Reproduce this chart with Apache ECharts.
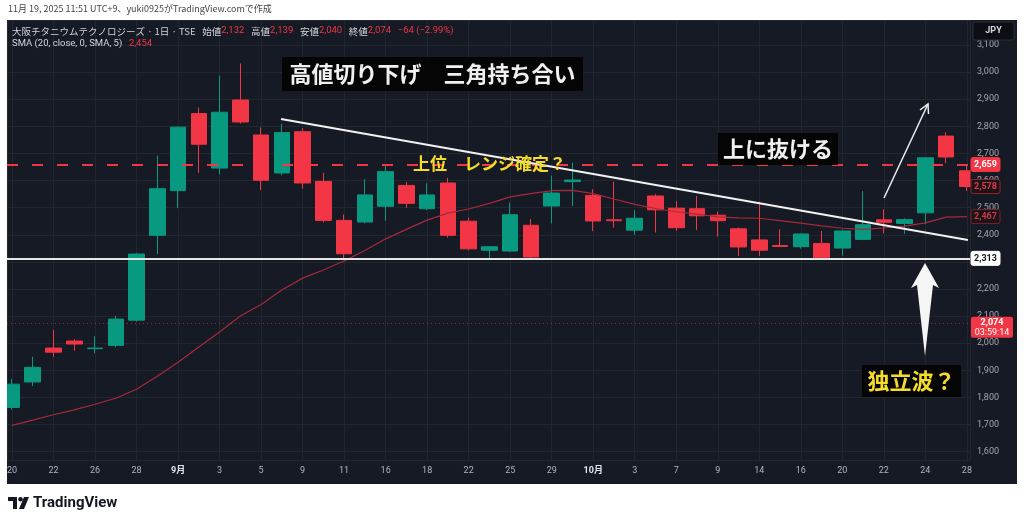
<!DOCTYPE html>
<html>
<head>
<meta charset="utf-8">
<script src="https://cdn.jsdelivr.net/npm/echarts@6/dist/echarts.min.js"></script>
<style>
  html, body { margin: 0; background: #fff; }
  #main { width: 1024px; height: 524px; }
</style>
</head>
<body>
<div id="main"></div>
<script>
// 営業日ラベル (8/20 ~ 10/28)
const days = ['20', '21', '22', '25', '26', '27', '28', '29',
  '9月', '2', '3', '4', '5', '8', '9', '10', '11', '12', '16', '17', '18', '19', '22', '24', '25', '26', '29', '30',
  '10月', '2', '3', '6', '7', '8', '9', '10', '14', '15', '16', '17', '20', '21', '22', '23', '24', '27', '28']
const openP = [1763, 1857, 1982, 2008, 1980, 1992, 2085, 2398, 2563, 2847, 2646, 2897, 2768, 2628, 2780, 2597,
  2453, 2447, 2505, 2582, 2496, 2591, 2450, 2343, 2340, 2435, 2506, 2596, 2545, 2455, 2417, 2543,
  2498, 2496, 2472, 2422, 2381, 2360, 2356, 2368, 2351, 2383, 2455, 2442, 2481, 2764, 2636]
const closeP = [1849, 1911, 1967, 1997, 1982, 2089, 2329, 2570, 2797, 2734, 2852, 2816, 2601, 2777, 2591, 2453,
  2330, 2547, 2633, 2516, 2547, 2398, 2348, 2356, 2474, 2318, 2554, 2602, 2451, 2452, 2461, 2492,
  2426, 2470, 2452, 2355, 2343, 2357, 2403, 2315, 2414, 2437, 2446, 2456, 2684, 2687, 2578]
const lowP = [1755, 1842, 1949, 1972, 1963, 1985, 2080, 2329, 2498, 2629, 2623, 2810, 2565, 2620, 2570, 2446,
  2307, 2442, 2452, 2499, 2491, 2389, 2343, 2309, 2336, 2315, 2442, 2506, 2414, 2426, 2399, 2408,
  2414, 2417, 2393, 2322, 2322, 2354, 2349, 2311, 2323, 2380, 2405, 2403, 2439, 2664, 2562]
const highP = [1868, 1950, 2049, 2015, 2026, 2101, 2332, 2692, 2800, 2869, 2987, 3032, 2796, 2809, 2793, 2629,
  2475, 2605, 2660, 2595, 2590, 2610, 2463, 2358, 2518, 2458, 2618, 2666, 2568, 2596, 2491, 2550,
  2525, 2543, 2485, 2427, 2522, 2420, 2405, 2414, 2418, 2561, 2494, 2460, 2686, 2778, 2660]
// SMA(20)
const sma20 = [1697, 1716, 1736, 1754, 1775, 1797, 1830, 1878, 1930, 1986, 2041, 2100, 2143, 2196, 2240, 2270,
  2303, 2342, 2385, 2420, 2454, 2480, 2495, 2516, 2540, 2552, 2563, 2564, 2552, 2532, 2512, 2497,
  2485, 2476, 2466, 2462, 2461, 2452, 2443, 2433, 2424, 2420, 2425, 2432, 2444, 2465, 2467]

const UP = '#089981'
const DOWN = '#f23645'
const BG = '#161a25'
const FONT = "Roboto, 'Noto Sans CJK JP', sans-serif"
const JP = "'Noto Sans CJK JP', sans-serif"

const candles = days.map((d, i) => [i, openP[i], closeP[i], lowP[i], highP[i]])
const smaData = sma20.map((v, i) => [i, v])

const chart = echarts.init(document.getElementById('main'))
chart.setOption({
  backgroundColor: '#ffffff',
  animation: false,
  grid: { left: 7, top: 20, width: 963, height: 440 },
  xAxis: {
    type: 'value',
    min: -0.24,
    max: 46.15,
    splitNumber: 23,
    axisLine: { show: false },
    axisTick: { show: false },
    splitLine: { show: true, lineStyle: { color: '#22262f', width: 1 } },
    axisLabel: {
      margin: 6,
      fontSize: 9,
      fontFamily: FONT,
      color: '#b2b5be',
      formatter: function (v) {
        const k = Math.round(v)
        if (Math.abs(v - k) > 1e-6 || k % 2 !== 0 || !days[k]) return ''
        return days[k].indexOf('月') >= 0 ? '{m|' + days[k] + '}' : days[k]
      },
      rich: { m: { fontSize: 9, fontWeight: 'bold', color: '#e0e3eb', fontFamily: FONT } }
    }
  },
  yAxis: {
    type: 'value',
    position: 'right',
    min: 1569.2,
    max: 3192.2,
    splitNumber: 16,
    axisLine: { show: false },
    axisTick: { show: false },
    splitLine: { lineStyle: { color: '#22262f', width: 1 } },
    axisLabel: {
      margin: 7,
      fontSize: 9,
      fontFamily: FONT,
      color: '#a3a6af',
      formatter: function (v) {
        const k = Math.round(v / 100) * 100
        if (Math.abs(v - k) > 1e-6) return ''
        return k.toLocaleString('en-US')
      }
    }
  },
  series: [
    {
      // 水平線 (テキストの背景より下)
      type: 'line',
      data: [],
      z: 1,
      markLine: {
        silent: true,
        symbol: ['none', 'none'],
        label: { show: false },
        data: [
          { yAxis: 2659, lineStyle: { color: DOWN, width: 2, type: [11, 14] } },
          { yAxis: 2074, lineStyle: { color: 'rgba(242,54,69,0.55)', width: 1, type: [1, 3] } }
        ]
      }
    },
    {
      type: 'candlestick',
      data: candles,
      barWidth: 16,
      z: 2,
      itemStyle: {
        color: UP,
        color0: DOWN,
        borderColor: UP,
        borderColor0: DOWN,
        borderWidth: 1
      },
      markLine: {
        silent: true,
        symbol: ['none', 'none'],
        label: { show: false },
        data: [
          { yAxis: 2313, lineStyle: { color: '#e6e6e6', width: 2, type: 'solid' } },
          [
            { coord: [12.96, 2827], lineStyle: { color: '#f2f2f2', width: 2, type: 'solid' } },
            { coord: [46.05, 2381] }
          ]
        ]
      }
    },
    {
      type: 'line',
      data: smaData,
      z: 3,
      showSymbol: false,
      lineStyle: { color: '#a52a3a', width: 1.2 }
    }
  ]
})

// 右軸のラベル
function badge (price, text, fill, stroke, color, w) {
  const y = chart.convertToPixel({ yAxisIndex: 0 }, price)
  return [
    { type: 'rect', z: 20, shape: { x: 971, y: y - 7, width: w, height: 14, r: 2 }, style: { fill: fill, stroke: stroke, lineWidth: 1 } },
    { type: 'text', z: 21, x: 971 + w / 2, y: y, style: { text: text, fill: color, font: 'bold 9px ' + FONT, align: 'center', verticalAlign: 'middle' } }
  ]
}
const yNow = chart.convertToPixel({ yAxisIndex: 0 }, 2074)

let g = [
  { type: 'rect', z: -10, silent: true, shape: { x: 7, y: 20, width: 1010, height: 464 }, style: { fill: BG } },
  // 端のはみ出しを隠す
  { type: 'rect', z: 30, silent: true, shape: { x: 0, y: 20, width: 7, height: 464 }, style: { fill: '#ffffff' } },
  { type: 'rect', z: 19, silent: true, shape: { x: 970.5, y: 150, width: 6, height: 50 }, style: { fill: BG } },
  { type: 'text', z: 5, x: 8, y: 9, style: { text: '11月 19, 2025 11:51 UTC+9、yuki0925がTradingView.comで作成', fill: '#444', font: '9px ' + JP, verticalAlign: 'middle' } },
  {
    type: 'text', z: 5, x: 12, y: 31,
    style: {
      text: '{n|大阪チタニウムテクノロジーズ · 1日 · TSE}  {n|始値}{r|2,132}  {n|高値}{r|2,139}  {n|安値}{r|2,040}  {n|終値}{r|2,074}  {r|−64 (−2.99%)}',
      verticalAlign: 'middle',
      rich: {
        n: { fill: '#d1d4dc', font: '9.5px ' + JP },
        r: { fill: DOWN, font: '9.5px ' + FONT }
      }
    }
  },
  {
    type: 'text', z: 5, x: 12, y: 44,
    style: {
      text: '{n|SMA (20, close, 0, SMA, 5)}  {r|2,454}',
      verticalAlign: 'middle',
      rich: {
        n: { fill: '#d1d4dc', font: '9.5px ' + FONT },
        r: { fill: DOWN, font: '9.5px ' + FONT }
      }
    }
  },
  // JPY
  { type: 'rect', z: 20, shape: { x: 973, y: 22, width: 41, height: 18, r: 2 }, style: { fill: '#0c0e14', stroke: '#2a2e39', lineWidth: 1 } },
  { type: 'text', z: 21, x: 993.5, y: 31, style: { text: 'JPY', fill: '#d1d4dc', font: 'bold 9px ' + FONT, align: 'center', verticalAlign: 'middle' } },

  // 注釈
  { type: 'rect', z: 20, shape: { x: 282, y: 57, width: 301, height: 34 }, style: { fill: '#050505' } },
  { type: 'text', z: 21, x: 432.5, y: 74, style: { text: '高値切り下げ　三角持ち合い', fill: '#f0f0f0', font: 'bold 22px ' + JP, align: 'center', verticalAlign: 'middle' } },
  { type: 'rect', z: 20, shape: { x: 718, y: 133, width: 120, height: 32 }, style: { fill: '#050505' } },
  { type: 'text', z: 21, x: 778, y: 149, style: { text: '上に抜ける', fill: '#f0f0f0', font: 'bold 22px ' + JP, align: 'center', verticalAlign: 'middle' } },
  { type: 'rect', z: 20, shape: { x: 862, y: 365, width: 99, height: 32 }, style: { fill: '#050505' } },
  { type: 'text', z: 21, x: 911.5, y: 381, style: { text: '独立波？', fill: '#f5dc28', font: 'bold 22px ' + JP, align: 'center', verticalAlign: 'middle' } },
  { type: 'rect', z: 1.5, silent: true, shape: { x: 407, y: 157, width: 171, height: 14 }, style: { fill: BG } },
  { type: 'text', z: 21, x: 413, y: 164, style: { text: '上位　レンジ確定？', fill: '#f5dc28', font: 'bold 17px ' + JP, verticalAlign: 'middle' } },

  // 矢印
  { type: 'polyline', z: 20, shape: { points: [[884, 198], [928, 104]] }, style: { stroke: '#eeeeee', lineWidth: 1.5 } },
  { type: 'polyline', z: 20, shape: { points: [[920, 110], [928, 104], [928.5, 114]] }, style: { stroke: '#eeeeee', lineWidth: 1.5, fill: null } },
  { type: 'polygon', z: 20, shape: { points: [[925, 263], [939, 288], [933, 285], [925, 356], [917, 285], [911, 288]] }, style: { fill: '#f5f5f5' } },

  // 現在値
  { type: 'rect', z: 20, shape: { x: 971, y: yNow - 6.5, width: 42, height: 21, r: 2 }, style: { fill: DOWN } },
  { type: 'text', z: 21, x: 992, y: yNow, style: { text: '2,074', fill: '#fff', font: 'bold 9px ' + FONT, align: 'center', verticalAlign: 'middle' } },
  { type: 'text', z: 21, x: 992, y: yNow + 9.5, style: { text: '03:59:14', fill: '#fff', font: '9px ' + FONT, align: 'center', verticalAlign: 'middle' } },

  // ロゴ
  { type: 'polygon', z: 5, shape: { points: [[8, 497], [17, 497], [17, 509], [13, 509], [13, 501], [8, 501]] }, style: { fill: '#131722' } },
  { type: 'circle', z: 5, shape: { cx: 20.5, cy: 499.3, r: 2.3 }, style: { fill: '#131722' } },
  { type: 'polygon', z: 5, shape: { points: [[24, 497], [29, 497], [24, 509], [19, 509]] }, style: { fill: '#131722' } },
  { type: 'text', z: 5, x: 33, y: 503, style: { text: 'TradingView', fill: '#131722', font: 'bold 15px ' + FONT, verticalAlign: 'middle' } }
]
g = g.concat(
  badge(2659, '2,659', DOWN, DOWN, '#ffffff', 29),
  badge(2578, '2,578', '#1d1418', '#8f2432', '#e0394a', 29),
  badge(2467, '2,467', '#1d1418', '#7a2130', '#c8394a', 29),
  badge(2313, '2,313', '#ffffff', '#ffffff', '#131722', 29)
)
chart.setOption({ graphic: g })
</script>
</body>
</html>
